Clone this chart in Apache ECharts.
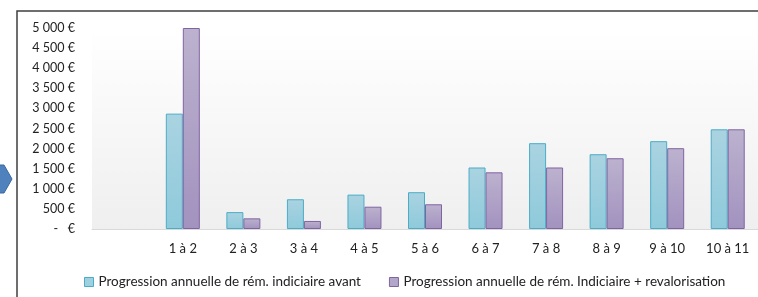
<!DOCTYPE html>
<html>
<head>
<meta charset="utf-8">
<script src="https://cdn.jsdelivr.net/npm/echarts@6/dist/echarts.min.js"></script>
<style>
  html, body { margin: 0; padding: 0; background: #fff; }
  #chart { width: 758px; height: 297px; }
</style>
</head>
<body>
<div id="chart"></div>
<script>
// in euros
const categories = ['', '1 à 2', '2 à 3', '3 à 4', '4 à 5', '5 à 6', '6 à 7', '7 à 8', '8 à 9', '9 à 10', '10 à 11'];
const avant = [null, 2870, 420, 740, 855, 915, 1530, 2135, 1860, 2185, 2480];
const revalo = [null, 5000, 265, 200, 555, 615, 1410, 1530, 1760, 2010, 2480];
const seriesNames = [
    'Progression annuelle de rém. indiciaire avant',
    'Progression annuelle de rém. Indiciaire + revalorisation'
];

const font = 'Lato, "Open Sans", sans-serif';

function euro(v) {
    if (v === 0) return '-   €';
    let k = Math.floor(v / 1000);
    let r = String(v % 1000).padStart(3, '0');
    return (k > 0 ? k + ' ' + r : String(v % 1000)) + ' €';
}

function grad(top, bottom) {
    return new echarts.graphic.LinearGradient(0, 0, 0, 1, [
        { offset: 0, color: top },
        { offset: 1, color: bottom }
    ]);
}

let myChart = echarts.init(document.getElementById('chart'));

let option = {
    animation: false,
    grid: {
        left: 92,
        top: 28,
        width: 672,
        bottom: 68,
        show: true,
        borderWidth: 0,
        backgroundColor: grad('#ffffff', '#efefef')
    },
    legend: {
        left: 79,
        top: 270,
        itemWidth: 9,
        itemHeight: 9,
        itemGap: 28,
        icon: 'rect',
        textStyle: { fontFamily: font, fontSize: 13.5, color: '#222' },
        data: [
            { name: seriesNames[0], itemStyle: { color: '#9fd0df', borderColor: '#4bacc6', borderWidth: 1 } },
            { name: seriesNames[1], itemStyle: { color: '#b3a6cb', borderColor: '#8064a2', borderWidth: 1 } }
        ]
    },
    xAxis: {
        type: 'category',
        data: categories,
        axisLine: { lineStyle: { color: '#d9d9d9', width: 1 } },
        axisTick: { show: false },
        axisLabel: { margin: 13, fontFamily: font, fontSize: 13, color: '#222', interval: 0 }
    },
    yAxis: {
        type: 'value',
        min: 0,
        max: 5000,
        interval: 500,
        axisLine: { show: false },
        axisTick: { show: false },
        splitLine: { show: false },
        axisLabel: { margin: 17, fontFamily: font, fontSize: 12.5, color: '#222', formatter: euro }
    },
    series: [{
        name: seriesNames[0],
        type: 'bar',
        data: avant,
        barWidth: 17,
        barGap: '0%',
        itemStyle: { color: grad('#aad3e1', '#8ecadb'), borderColor: '#4bacc6', borderWidth: 1 }
    }, {
        name: seriesNames[1],
        type: 'bar',
        data: revalo,
        barWidth: 17,
        itemStyle: { color: grad('#bcb2ce', '#a292bf'), borderColor: '#8064a2', borderWidth: 1 }
    }],
    graphic: [{
        type: 'polyline',
        shape: { points: [[17, 400], [17, 11], [800, 11]] },
        style: { stroke: '#3f3f3f', lineWidth: 1.5, fill: null }
    }, {
        type: 'polygon',
        shape: { points: [[-2, 165], [4, 165], [12, 179], [4, 193], [-2, 193]] },
        style: { fill: '#4f81bd', stroke: '#3a67a0', lineWidth: 1 }
    }]
};

myChart.setOption(option);
</script>
</body>
</html>
